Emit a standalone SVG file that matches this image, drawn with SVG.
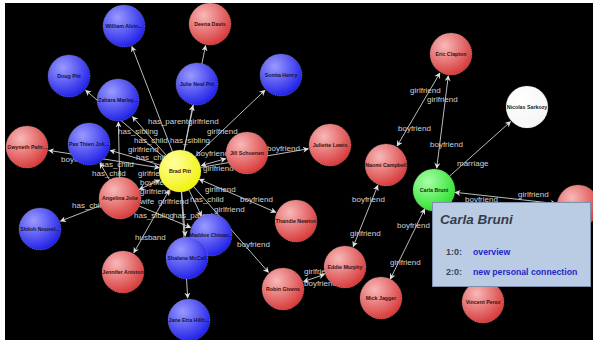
<svg xmlns="http://www.w3.org/2000/svg" width="593" height="340" viewBox="0 0 593 340">
<style>
.e{stroke:#cfcfcf;stroke-width:0.9;fill:none;marker-end:url(#ah)}
.b{marker-start:url(#ah)}
.el{font-family:"Liberation Sans",Arial,sans-serif;font-size:8px;fill:#d2d2d2}
.nd{stroke:#e8e8e8;stroke-width:0.5;stroke-dasharray:1 1;stroke-opacity:0.6}
.nl{font-family:"Liberation Sans",Arial,sans-serif;font-size:5.3px;font-weight:bold;text-anchor:middle}
.rl{fill:#3a1010}
.bl{fill:#14143c}
.tt{font-family:"Liberation Sans",Arial,sans-serif}
</style>
<defs>
<marker id="ah" viewBox="0 0 10 10" refX="9" refY="5" markerWidth="6" markerHeight="6" markerUnits="userSpaceOnUse" orient="auto-start-reverse">
<path d="M0,0 L10,5 L0,10 L3,5 Z" fill="#e0e0e0"/>
</marker>
<radialGradient id="gr" cx="0.35" cy="0.3" r="0.8"><stop offset="0" stop-color="#f8b8b8"/><stop offset="1" stop-color="#d42e2e"/></radialGradient>
<radialGradient id="gb" cx="0.35" cy="0.3" r="0.8"><stop offset="0" stop-color="#9a9aff"/><stop offset="1" stop-color="#1515e6"/></radialGradient>
<radialGradient id="gy" cx="0.35" cy="0.3" r="0.8"><stop offset="0" stop-color="#ffffa0"/><stop offset="1" stop-color="#f0f000"/></radialGradient>
<radialGradient id="gg" cx="0.35" cy="0.3" r="0.8"><stop offset="0" stop-color="#a8ffa8"/><stop offset="1" stop-color="#22dd22"/></radialGradient>
<radialGradient id="gw" cx="0.35" cy="0.3" r="0.8"><stop offset="0" stop-color="#ffffff"/><stop offset="1" stop-color="#f4f4f4"/></radialGradient>
</defs>
<rect width="593" height="340" fill="#ffffff"/>
<rect x="5" y="3" width="588" height="337" fill="#000000"/>
<g id="connectors">
<line class="e" x1="172.4" y1="151.4" x2="131.9" y2="46.5"/>
<line class="e" x1="184.2" y1="150.4" x2="205.6" y2="45.6"/>
<line class="e" x1="184" y1="150.4" x2="192.8" y2="105.6"/>
<line class="e" x1="164" y1="157.3" x2="85.7" y2="90.3"/>
<line class="e" x1="166.2" y1="155.2" x2="132.5" y2="116.6"/>
<line class="e" x1="119.6" y1="177" x2="118.4" y2="122"/>
<line class="e" x1="195.2" y1="156.5" x2="265" y2="90.2"/>
<line class="e" x1="159.9" y1="165" x2="110.1" y2="150.3"/>
<line class="e b" x1="159.3" y1="167.7" x2="48.7" y2="150.4"/>
<line class="e" x1="109.5" y1="179.8" x2="100" y2="163.1"/>
<line class="e" x1="100.4" y1="205.6" x2="60.5" y2="221.1"/>
<line class="e b" x1="139.2" y1="189.4" x2="159.9" y2="180"/>
<line class="e b" x1="133.8" y1="252.8" x2="169.2" y2="190.2"/>
<line class="e b" x1="201.3" y1="165.6" x2="225.7" y2="158.7"/>
<line class="e" x1="200.7" y1="167.4" x2="308.3" y2="148.8"/>
<line class="e b" x1="199.3" y1="179.3" x2="275.8" y2="212.3"/>
<line class="e" x1="189" y1="190" x2="201.5" y2="216.1"/>
<line class="e" x1="181.7" y1="192" x2="185.2" y2="236.1"/>
<line class="e" x1="181.3" y1="192" x2="187.7" y2="298"/>
<line class="e" x1="139.4" y1="206.1" x2="190.7" y2="227.5"/>
<line class="e" x1="193.8" y1="186.8" x2="268.5" y2="272.4"/>
<line class="e b" x1="303.7" y1="281.6" x2="324.3" y2="274.4"/>
<line class="e b" x1="353.2" y1="246.6" x2="377.8" y2="185.4"/>
<line class="e b" x1="397.1" y1="146" x2="439.9" y2="73"/>
<line class="e b" x1="436.7" y1="168.2" x2="448.3" y2="75.8"/>
<line class="e" x1="449.7" y1="176" x2="510.6" y2="121.6"/>
<line class="e b" x1="455" y1="192.3" x2="556.1" y2="203.6"/>
<line class="e b" x1="424.7" y1="208.9" x2="390.3" y2="279.1"/>
<g id="edge-labels">
<text class="el" x="148" y="124">has_parent</text>
<text class="el" x="188" y="124">girlfriend</text>
<text class="el" x="118" y="134">has_sibling</text>
<text class="el" x="207" y="134">girlfriend</text>
<text class="el" x="134" y="143">has_child</text>
<text class="el" x="170" y="143">has_sibling</text>
<text class="el" x="128" y="152">girlfriend</text>
<text class="el" x="136" y="160">has_child</text>
<text class="el" x="100" y="167">has_child</text>
<text class="el" x="61" y="162">boyfriend</text>
<text class="el" x="92" y="176">has_child</text>
<text class="el" x="138" y="176">girlfriend</text>
<text class="el" x="140" y="185">boyfriend</text>
<text class="el" x="140" y="194">girlfriend</text>
<text class="el" x="140" y="204">wife</text>
<text class="el" x="158" y="204">girlfriend</text>
<text class="el" x="72" y="208">has_child</text>
<text class="el" x="190" y="202">has_child</text>
<text class="el" x="134" y="218">has_sibling</text>
<text class="el" x="173" y="218">has_parent</text>
<text class="el" x="135" y="240">husband</text>
<text class="el" x="196" y="156">boyfriend</text>
<text class="el" x="203" y="171">girlfriend</text>
<text class="el" x="267" y="151">boyfriend</text>
<text class="el" x="205" y="192">girlfriend</text>
<text class="el" x="240" y="202">boyfriend</text>
<text class="el" x="214" y="212">girlfriend</text>
<text class="el" x="237" y="247">boyfriend</text>
<text class="el" x="304" y="274">girlfriend</text>
<text class="el" x="304" y="286">boyfriend</text>
<text class="el" x="350" y="236">girlfriend</text>
<text class="el" x="352" y="202">boyfriend</text>
<text class="el" x="398" y="131">boyfriend</text>
<text class="el" x="410" y="93">girlfriend</text>
<text class="el" x="430" y="147">boyfriend</text>
<text class="el" x="427" y="102">girlfriend</text>
<text class="el" x="457" y="166">marriage</text>
<text class="el" x="518" y="197">girlfriend</text>
<text class="el" x="465" y="202">boyfriend</text>
<text class="el" x="397" y="228">boyfriend</text>
<text class="el" x="390" y="265">girlfriend</text>
</g>
</g>
<g id="n-william"><circle class="nd" cx="124" cy="26" r="21" fill="url(#gb)"/><text class="nl bl" x="124" y="27.8">William Alvin...</text></g>
<g id="n-deena"><circle class="nd" cx="210" cy="24" r="21" fill="url(#gr)"/><text class="nl rl" x="210" y="25.8">Deena Davis</text></g>
<g id="n-doug"><circle class="nd" cx="69" cy="76" r="21" fill="url(#gb)"/><text class="nl bl" x="69" y="77.8">Doug Pitt</text></g>
<g id="n-zahara"><circle class="nd" cx="118" cy="100" r="21" fill="url(#gb)"/><text class="nl bl" x="118" y="101.8">Zahara Marley...</text></g>
<g id="n-julie"><circle class="nd" cx="197" cy="84" r="21" fill="url(#gb)"/><text class="nl bl" x="197" y="85.8">Julie Neal Pitt</text></g>
<g id="n-sonita"><circle class="nd" cx="281" cy="75" r="21" fill="url(#gb)"/><text class="nl bl" x="281" y="76.8">Sonita Henry</text></g>
<g id="n-gwyneth"><circle class="nd" cx="27" cy="147" r="21" fill="url(#gr)"/><text class="nl rl" x="27" y="148.8">Gwyneth Paltr...</text></g>
<g id="n-pax"><circle class="nd" cx="89" cy="144" r="21" fill="url(#gb)"/><text class="nl bl" x="89" y="145.8">Pax Thien Joli...</text></g>
<g id="n-brad"><circle class="nd" cx="180" cy="171" r="21" fill="url(#gy)"/><text class="nl rl" x="180" y="172.8">Brad Pitt</text></g>
<g id="n-angelina"><circle class="nd" cx="120" cy="198" r="21" fill="url(#gr)"/><text class="nl rl" x="120" y="199.8">Angelina Jolie</text></g>
<g id="n-shiloh"><circle class="nd" cx="40" cy="229" r="21" fill="url(#gb)"/><text class="nl bl" x="40" y="230.8">Shiloh Nouvel...</text></g>
<g id="n-jill"><circle class="nd" cx="247" cy="153" r="21" fill="url(#gr)"/><text class="nl rl" x="247" y="154.8">Jill Schoenen</text></g>
<g id="n-juliette"><circle class="nd" cx="330" cy="145" r="21" fill="url(#gr)"/><text class="nl rl" x="330" y="146.8">Juliette Lewis</text></g>
<g id="n-thandie"><circle class="nd" cx="296" cy="221" r="21" fill="url(#gr)"/><text class="nl rl" x="296" y="222.8">Thandie Newton</text></g>
<g id="n-maddox"><circle class="nd" cx="211" cy="235" r="21" fill="url(#gb)"/><text class="nl bl" x="211" y="236.8">Maddox Chivan...</text></g>
<g id="n-shalane"><circle class="nd" cx="187" cy="258" r="21" fill="url(#gb)"/><text class="nl bl" x="187" y="259.8">Shalane McCall</text></g>
<g id="n-jane"><circle class="nd" cx="189" cy="320" r="21" fill="url(#gb)"/><text class="nl bl" x="189" y="321.8">Jane Etta Hillh...</text></g>
<g id="n-jennifer"><circle class="nd" cx="123" cy="272" r="21" fill="url(#gr)"/><text class="nl rl" x="123" y="273.8">Jennifer Aniston</text></g>
<g id="n-robin"><circle class="nd" cx="283" cy="289" r="21" fill="url(#gr)"/><text class="nl rl" x="283" y="290.8">Robin Givens</text></g>
<g id="n-eddie"><circle class="nd" cx="345" cy="267" r="21" fill="url(#gr)"/><text class="nl rl" x="345" y="268.8">Eddie Murphy</text></g>
<g id="n-mick"><circle class="nd" cx="381" cy="298" r="21" fill="url(#gr)"/><text class="nl rl" x="381" y="299.8">Mick Jagger</text></g>
<g id="n-vincent"><circle class="nd" cx="483" cy="302" r="21" fill="url(#gr)"/><text class="nl rl" x="483" y="303.8">Vincent Perez</text></g>
<g id="n-naomi"><circle class="nd" cx="386" cy="165" r="21" fill="url(#gr)"/><text class="nl rl" x="386" y="166.8">Naomi Campbell</text></g>
<g id="n-eric"><circle class="nd" cx="451" cy="54" r="21" fill="url(#gr)"/><text class="nl rl" x="451" y="55.8">Eric Clapton</text></g>
<g id="n-nicolas"><circle class="nd" cx="527" cy="107" r="21" fill="url(#gw)"/><text class="nl" fill="#222" x="527" y="108.8">Nicolas Sarkozy</text></g>
<g id="n-carla"><circle class="nd" cx="434" cy="190" r="21" fill="url(#gg)"/><text class="nl" fill="#103010" x="434" y="191.8">Carla Bruni</text></g>
<g id="n-other"><circle class="nd" cx="578" cy="206" r="21" fill="url(#gr)"/></g>
<g id="tooltip">
<rect x="432.5" y="202.5" width="158" height="84" fill="#b9cce4" stroke="#7f90aa" stroke-width="1"/>
<text class="tt" x="440" y="224" font-size="13.5" font-weight="bold" font-style="italic" fill="#363c4a">Carla Bruni</text>
<text class="tt" x="446" y="255" font-size="9" font-weight="bold" fill="#3a4458">1:0:</text>
<text class="tt" x="473" y="255" font-size="8.7" font-weight="bold" fill="#2424c8">overview</text>
<text class="tt" x="446" y="275" font-size="9" font-weight="bold" fill="#3a4458">2:0:</text>
<text class="tt" x="473" y="275" font-size="8.7" font-weight="bold" fill="#2424c8">new personal connection</text>
</g>
</svg>
